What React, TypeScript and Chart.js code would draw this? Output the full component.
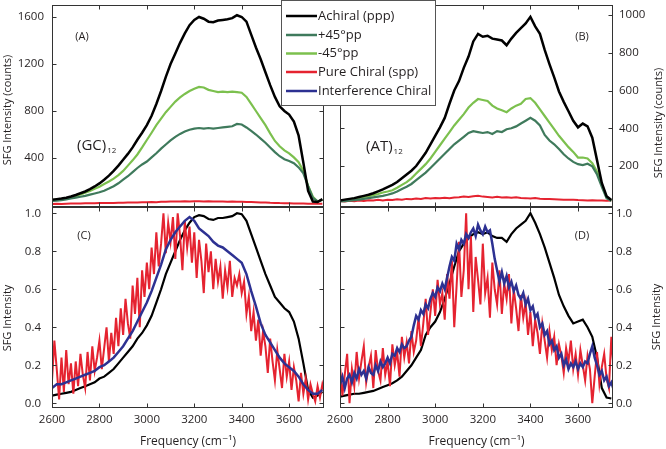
import { useEffect, useRef } from "react";
import { Chart, registerables } from "chart.js";
Chart.register(...registerables);

const W = 666;
const H = 449;
const FONT = "'Open Sans', 'DejaVu Sans', sans-serif";
const TEXT = "#231f20";

// ---------- axes ----------
const X_MIN = 2600;
const X_MAX = 3747;
const freqTicks = [2600, 2800, 3000, 3200, 3400, 3600];
const countTicksGC = [400, 800, 1200, 1600];
const countTicksAT = [200, 400, 600, 800, 1000];
const normTicks = [0, 0.2, 0.4, 0.6, 0.8, 1.0];

// sampling grids (cm-1)
const freq20 = Array.from({ length: 58 }, (_, i) => 2600 + 20 * i);
const freq10 = Array.from({ length: 116 }, (_, i) => 2600 + 10 * i);

// ---------- legend ----------
const legendLabels = ["Achiral (ppp)", "+45°pp", "-45°pp", "Pure Chiral (spp)", "Interference Chiral"];
const COLORS = {
  achiral: "#000000",
  plus45: "#3f7a5c",
  minus45: "#7cc04e",
  pure: "#e52330",
  interf: "#2d3192",
};
const legendColors = [COLORS.achiral, COLORS.plus45, COLORS.minus45, COLORS.pure, COLORS.interf];

// ---------- (A) (GC)12, counts, 20 cm-1 steps ----------
const gcAchiral = [
  45, 50, 55, 62, 72,
  85, 100, 115, 135, 158,
  184, 215, 250, 290, 335,
  385, 435, 490, 555, 615,
  680, 760, 860, 970, 1090,
  1200, 1290, 1380, 1460, 1530,
  1575, 1600, 1585, 1560, 1555,
  1570, 1575, 1580, 1590, 1615,
  1600, 1560, 1450, 1340, 1240,
  1130, 1020, 920, 840, 800,
  770, 710, 590, 360, 120,
  30, 25, 50,
];
const gcPlus45 = [
  34, 38, 42, 48, 55,
  63, 70, 78, 88, 98,
  108, 122, 140, 160, 185,
  215, 245, 280, 315, 345,
  370, 405, 440, 480, 515,
  550, 580, 605, 625, 640,
  650, 655, 650, 655, 650,
  655, 660, 665, 670, 690,
  685, 660, 630, 600, 565,
  530, 490, 450, 415, 390,
  375, 355, 320, 270, 160,
  60, 30, 45,
];
const gcMinus45 = [
  42, 45, 50, 56, 65,
  75, 90, 105, 120, 138,
  156, 178, 200, 225, 255,
  290, 335, 380, 430, 490,
  553, 615, 680, 735, 790,
  835, 880, 915, 945, 970,
  990, 1005, 1000, 980, 970,
  960, 965, 960, 965, 960,
  955, 920, 860, 800, 740,
  680, 610, 545, 500, 465,
  440, 405, 365, 290, 165,
  70, 30, 45,
];
const gcPureChiral = [
  8, 10, 9, 11, 12,
  13, 12, 14, 15, 14,
  16, 17, 18, 17, 19,
  20, 21, 22, 21, 23,
  24, 25, 24, 27, 28,
  29, 30, 29, 31, 30,
  32, 31, 30, 31, 30,
  29, 30, 28, 29, 28,
  27, 26, 25, 24, 22,
  21, 19, 18, 16, 15,
  14, 13, 12, 12, 11,
  10, 10, 11,
];

// ---------- (B) (AT)12, counts, 20 cm-1 steps ----------
const atAchiral = [
  18, 22, 26, 30, 36,
  42, 48, 56, 66, 76,
  88, 100, 115, 135, 155,
  175, 200, 235, 270, 315,
  360, 405, 455, 530, 600,
  650, 720, 780, 860, 900,
  885, 890, 875, 870, 865,
  840, 875, 905, 930, 955,
  990, 940, 900, 815, 740,
  670, 595, 540, 490, 440,
  405, 425, 410, 350, 230,
  110, 40, 20,
];
const atPlus45 = [
  12, 14, 16, 19, 22,
  26, 30, 34, 38, 42,
  48, 55, 65, 78, 90,
  105, 125, 145, 165, 190,
  215, 240, 265, 290, 315,
  335, 355, 375, 385, 380,
  375, 380, 370, 385, 380,
  395, 400, 410, 425, 440,
  455, 440, 415, 365, 335,
  315, 290, 262, 240, 222,
  210, 205, 212, 198, 155,
  90, 30, 15,
];
const atMinus45 = [
  18, 20, 23, 27, 31,
  36, 41, 46, 52, 60,
  65, 72, 85, 100, 115,
  135, 160, 185, 210, 240,
  275, 310, 345, 380, 415,
  445, 475, 510, 535, 555,
  550, 545, 520, 505, 495,
  485, 505, 520, 530, 555,
  560, 535, 500, 465, 430,
  395, 360, 330, 300, 275,
  245, 245, 240, 215, 170,
  100, 35, 18,
];
const atPureChiral = [
  15, 12, 16, 14, 18,
  15, 19, 17, 21, 18,
  22, 20, 24, 22, 26,
  24, 28, 26, 30, 28,
  31, 29, 32, 30, 33,
  35, 38, 36, 40, 42,
  38, 36, 34, 37, 33,
  35, 32, 34, 31, 30,
  28, 30, 27, 26, 25,
  24, 23, 22, 21, 22,
  20, 19, 18, 19, 17,
  18, 16, 17,
];

// ---------- (C) normalized (GC)12 ----------
const gcAchiralNorm = [
  0.04, 0.045, 0.05, 0.055, 0.06,
  0.07, 0.08, 0.09, 0.10, 0.11,
  0.13, 0.14, 0.16, 0.18, 0.21,
  0.24, 0.27, 0.30, 0.34, 0.37,
  0.41, 0.46, 0.53, 0.60, 0.68,
  0.74, 0.80, 0.86, 0.91, 0.95,
  0.98, 0.99, 0.985, 0.97, 0.965,
  0.975, 0.975, 0.98, 0.985, 1.0,
  0.995, 0.96, 0.89, 0.82, 0.75,
  0.68, 0.62, 0.56, 0.53, 0.50,
  0.48, 0.43, 0.34, 0.21, 0.07,
  0.03, 0.04, 0.06,
];
const gcInterference = [
  0.08, 0.10, 0.10, 0.11, 0.12,
  0.13, 0.14, 0.15, 0.16, 0.17,
  0.19, 0.20, 0.22, 0.24, 0.27,
  0.30, 0.34, 0.38, 0.43, 0.48,
  0.53, 0.59, 0.66, 0.73, 0.81,
  0.86, 0.90, 0.93, 0.96, 0.98,
  0.96, 0.92, 0.90, 0.88, 0.85,
  0.83, 0.82, 0.80, 0.78, 0.76,
  0.74, 0.68, 0.59, 0.51, 0.42,
  0.36, 0.32, 0.28, 0.24, 0.21,
  0.19, 0.17, 0.14, 0.10, 0.07,
  0.05, 0.05, 0.07,
];
// 10 cm-1 steps
const gcPureChiralNorm = [
  0.12, 0.33, 0.18, 0.02, 0.24, 0.06, 0.28, 0.10, 0.21, 0.05,
  0.22, 0.09, 0.26, 0.15, 0.08, 0.27, 0.12, 0.30, 0.17, 0.24,
  0.33, 0.18, 0.29, 0.40, 0.22, 0.37, 0.26, 0.45, 0.30, 0.50,
  0.36, 0.55, 0.42, 0.34, 0.62, 0.47, 0.66, 0.40, 0.70, 0.56,
  0.74, 0.60, 0.82, 0.68, 0.90, 0.72, 0.84, 1.00, 0.79, 0.95,
  0.85, 0.98, 0.76, 1.00, 0.88, 0.70, 0.96, 0.82, 0.93, 0.74,
  0.90, 0.66, 0.86, 0.75, 0.58, 0.84, 0.69, 0.80, 0.60, 0.76,
  0.64, 0.72, 0.55, 0.70, 0.61, 0.75, 0.56, 0.66, 0.62, 0.68,
  0.58, 0.64, 0.47, 0.56, 0.38, 0.48, 0.33, 0.44, 0.25, 0.38,
  0.30, 0.16, 0.34, 0.22, 0.12, 0.28, 0.18, 0.08, 0.26, 0.14,
  0.22, 0.07, 0.19, 0.12, 0.01, 0.16, 0.05, 0.13, 0.02, 0.10,
  0.05, 0.01, 0.09, 0.03, 0.10, 0.05,
];

// ---------- (D) normalized (AT)12 ----------
const atAchiralNorm = [
  0.035, 0.04, 0.045, 0.05, 0.05,
  0.055, 0.06, 0.065, 0.075, 0.085,
  0.095, 0.105, 0.12, 0.14, 0.17,
  0.20, 0.24, 0.28, 0.36, 0.40,
  0.43, 0.48, 0.55, 0.63, 0.72,
  0.80, 0.84, 0.87, 0.89, 0.90,
  0.89, 0.90, 0.88, 0.87, 0.87,
  0.85, 0.89, 0.92, 0.94, 0.96,
  1.0, 0.95, 0.89, 0.82, 0.74,
  0.66, 0.57, 0.51, 0.46, 0.42,
  0.43, 0.44, 0.40, 0.35, 0.24,
  0.08, 0.03, 0.025,
];
const atInterference = [
  0.10, 0.14, 0.08, 0.13, 0.15, 0.11, 0.16, 0.13, 0.18, 0.15,
  0.17, 0.13, 0.19, 0.16, 0.15, 0.20, 0.17, 0.22, 0.19, 0.21,
  0.24, 0.21, 0.26, 0.25, 0.29, 0.27, 0.31, 0.29, 0.30, 0.33,
  0.35, 0.41, 0.46, 0.44, 0.49, 0.47, 0.52, 0.50, 0.55, 0.58,
  0.56, 0.61, 0.59, 0.63, 0.60, 0.66, 0.72, 0.77, 0.75, 0.84,
  0.81, 0.86, 0.84, 0.89, 0.87, 0.90, 0.92, 0.88, 0.94, 0.91,
  0.89, 0.93, 0.90, 0.91, 0.84, 0.76, 0.70, 0.64, 0.69, 0.63,
  0.67, 0.61, 0.64, 0.59, 0.62, 0.57, 0.55, 0.58, 0.52, 0.55,
  0.49, 0.51, 0.45, 0.47, 0.40, 0.42, 0.36, 0.38, 0.31, 0.33,
  0.28, 0.30, 0.24, 0.26, 0.20, 0.23, 0.18, 0.21, 0.19, 0.22,
  0.18, 0.21, 0.19, 0.22, 0.21, 0.26, 0.30, 0.24, 0.20, 0.15,
  0.17, 0.12, 0.14, 0.09, 0.11, 0.07,
];
const atPureChiralNorm = [
  0.20, 0.04, 0.15, 0.26, 0.00, 0.18, 0.09, 0.27, 0.13, 0.22,
  0.30, 0.11, 0.19, 0.25, 0.08, 0.28, 0.17, 0.12, 0.29, 0.15,
  0.22, 0.09, 0.31, 0.20, 0.27, 0.14, 0.35, 0.24, 0.32, 0.21,
  0.38, 0.27, 0.33, 0.45, 0.30, 0.42, 0.55, 0.36, 0.48, 0.60,
  0.46, 0.65, 0.52, 0.58, 0.44, 0.68, 0.55, 0.75, 0.40, 0.62,
  0.85, 0.56, 0.70, 1.00, 0.60, 0.88, 0.48, 0.77, 0.65, 0.52,
  0.84, 0.58, 0.66, 0.45, 0.74, 0.60, 0.52, 0.70, 0.47, 0.63,
  0.55, 0.68, 0.42, 0.60, 0.50, 0.38, 0.57, 0.45, 0.53, 0.36,
  0.48, 0.30, 0.44, 0.37, 0.26, 0.42, 0.33, 0.24, 0.38, 0.28,
  0.35, 0.20, 0.31, 0.25, 0.16, 0.29, 0.22, 0.33, 0.18, 0.26,
  0.15, 0.28, 0.20, 0.12, 0.25, 0.18, 0.00, 0.14, 0.27, 0.10,
  0.19, 0.26, 0.13, 0.08, 0.35, 0.17,
];

// ---------- plugins ----------
const framePlugin = {
  id: "panelFrame",
  afterDatasetsDraw(chart: any) {
    const { ctx, chartArea: a } = chart;
    const xs = chart.scales.x;
    const ys = chart.scales.y;
    const L = Math.round(a.left) + 0.5;
    const R = Math.round(a.right) - 0.5;
    const T = Math.round(a.top) + 0.5;
    const B = Math.round(a.bottom) - 0.5;
    const len = 4;
    ctx.save();
    ctx.strokeStyle = "#333333";
    ctx.lineWidth = 1;
    ctx.strokeRect(L, T, R - L, B - T);
    ctx.beginPath();
    xs.ticks.forEach((t: any) => {
      const p = Math.round(xs.getPixelForValue(t.value)) + 0.5;
      if (p <= L + 1 || p >= R - 1) return;
      ctx.moveTo(p, B);
      ctx.lineTo(p, B - len);
      ctx.moveTo(p, T);
      ctx.lineTo(p, T + len);
    });
    ys.ticks.forEach((t: any) => {
      const p = Math.round(ys.getPixelForValue(t.value)) + 0.5;
      if (p <= T + 1 || p >= B - 1) return;
      ctx.moveTo(L, p);
      ctx.lineTo(L + len, p);
      ctx.moveTo(R, p);
      ctx.lineTo(R - len, p);
    });
    ctx.stroke();
    ctx.restore();
  },
};

const textPlugin = {
  id: "panelText",
  afterDraw(chart: any, _args: any, opts: any) {
    const ctx = chart.ctx;
    (opts.labels || []).forEach((l: any) => {
      ctx.save();
      ctx.fillStyle = TEXT;
      ctx.font = `${l.size}px ${FONT}`;
      ctx.textAlign = l.align || "center";
      ctx.textBaseline = "middle";
      ctx.translate(l.x, l.y);
      if (l.rotate) ctx.rotate(-Math.PI / 2);
      ctx.fillText(l.text, 0, 0);
      if (l.sub) {
        const w = ctx.measureText(l.text).width;
        ctx.font = `${l.subSize}px ${FONT}`;
        ctx.textAlign = "left";
        ctx.fillText(l.sub, w + 1, l.subDy);
      }
      ctx.restore();
    });
  },
};

const legendPlugin = {
  id: "boxLegend",
  afterDraw(chart: any, _args: any, opts: any) {
    if (!opts || !opts.show) return;
    const ctx = chart.ctx;
    const { x, y, w, h, rows, lineX0, lineX1, textX } = opts;
    ctx.save();
    ctx.fillStyle = "#ffffff";
    ctx.fillRect(x, y, w, h);
    ctx.strokeStyle = "#555555";
    ctx.lineWidth = 1;
    ctx.strokeRect(x + 0.5, y + 0.5, w - 1, h - 1);
    legendLabels.forEach((lab, i) => {
      const ry = rows[i];
      ctx.strokeStyle = legendColors[i];
      ctx.lineWidth = 2.5;
      ctx.beginPath();
      ctx.moveTo(lineX0, ry);
      ctx.lineTo(lineX1, ry);
      ctx.stroke();
      ctx.fillStyle = TEXT;
      ctx.font = `13px ${FONT}`;
      ctx.textAlign = "left";
      ctx.textBaseline = "middle";
      ctx.fillText(lab, textX, ry);
    });
    ctx.restore();
  },
};

// ---------- panels ----------
type Series = { label: string; xs: number[]; ys: number[]; color: string; width: number };
type Panel = {
  id: string;
  area: { left: number; top: number; right: number; bottom: number };
  yPos: "left" | "right";
  yMin: number;
  yMax: number;
  yTicks: number[];
  yFmt: (v: number) => string;
  yPad: number;
  showX: boolean;
  series: Series[];
  labels: any[];
  legend: boolean;
};

const intFmt = (v: number) => String(Math.round(v));
const oneDec = (v: number) => v.toFixed(1);

const PANELS: Panel[] = [
  {
    id: "C",
    area: { left: 52, top: 207, right: 324, bottom: 408 },
    yPos: "left",
    yMin: -0.025,
    yMax: 1.033,
    yTicks: normTicks,
    yFmt: oneDec,
    yPad: 11,
    showX: true,
    series: [
      { label: "Interference Chiral", xs: freq20, ys: gcInterference, color: COLORS.interf, width: 2.5 },
      { label: "Pure Chiral (spp)", xs: freq10, ys: gcPureChiralNorm, color: COLORS.pure, width: 2 },
      { label: "Achiral (ppp)", xs: freq20, ys: gcAchiralNorm, color: COLORS.achiral, width: 2.2 },
    ],
    labels: [
      { text: "(C)", x: 84, y: 236, size: 11 },
      { text: "SFG Intensity", x: 8, y: 318, size: 11, rotate: true },
    ],
    legend: false,
  },
  {
    id: "D",
    area: { left: 340, top: 207, right: 613, bottom: 408 },
    yPos: "right",
    yMin: -0.025,
    yMax: 1.033,
    yTicks: normTicks,
    yFmt: oneDec,
    yPad: 3,
    showX: true,
    series: [
      { label: "Interference Chiral", xs: freq10, ys: atInterference, color: COLORS.interf, width: 2.5 },
      { label: "Pure Chiral (spp)", xs: freq10, ys: atPureChiralNorm, color: COLORS.pure, width: 2 },
      { label: "Achiral (ppp)", xs: freq20, ys: atAchiralNorm, color: COLORS.achiral, width: 2.2 },
    ],
    labels: [
      { text: "(D)", x: 582, y: 236, size: 11 },
      { text: "SFG Intensity", x: 656.5, y: 317, size: 11, rotate: true },
    ],
    legend: false,
  },
  {
    id: "A",
    area: { left: 52, top: 5, right: 324, bottom: 207 },
    yPos: "left",
    yMin: -17,
    yMax: 1702,
    yTicks: countTicksGC,
    yFmt: intFmt,
    yPad: 8,
    showX: false,
    series: [
      { label: "Achiral (ppp)", xs: freq20, ys: gcAchiral, color: COLORS.achiral, width: 2.5 },
      { label: "+45°pp", xs: freq20, ys: gcPlus45, color: COLORS.plus45, width: 2.2 },
      { label: "-45°pp", xs: freq20, ys: gcMinus45, color: COLORS.minus45, width: 2.2 },
      { label: "Pure Chiral (spp)", xs: freq20, ys: gcPureChiral, color: COLORS.pure, width: 2 },
    ],
    labels: [
      { text: "(A)", x: 82, y: 37, size: 11 },
      { text: "(GC)", sub: "12", subSize: 8, subDy: 5, x: 77, y: 146, size: 15, align: "left" },
      { text: "SFG Intensity (counts)", x: 8, y: 110, size: 11, rotate: true },
    ],
    legend: false,
  },
  {
    id: "B",
    area: { left: 340, top: 5, right: 613, bottom: 207 },
    yPos: "right",
    yMin: -17,
    yMax: 1053,
    yTicks: countTicksAT,
    yFmt: intFmt,
    yPad: 6,
    showX: false,
    series: [
      { label: "Achiral (ppp)", xs: freq20, ys: atAchiral, color: COLORS.achiral, width: 2.5 },
      { label: "+45°pp", xs: freq20, ys: atPlus45, color: COLORS.plus45, width: 2.2 },
      { label: "-45°pp", xs: freq20, ys: atMinus45, color: COLORS.minus45, width: 2.2 },
      { label: "Pure Chiral (spp)", xs: freq20, ys: atPureChiral, color: COLORS.pure, width: 2 },
    ],
    labels: [
      { text: "(B)", x: 582, y: 37, size: 11 },
      { text: "(AT)", sub: "12", subSize: 8, subDy: 5, x: 366, y: 147, size: 15, align: "left" },
      { text: "SFG Intensity (counts)", x: 658.5, y: 123, size: 11, rotate: true },
    ],
    legend: true,
  },
];

function buildConfig(p: Panel): any {
  const left = p.yPos === "left";
  return {
    type: "line",
    data: {
      datasets: p.series.map((s) => ({
        label: s.label,
        data: s.ys.map((y, i) => ({ x: s.xs[i], y })),
        borderColor: s.color,
        backgroundColor: s.color,
        borderWidth: s.width,
        pointRadius: 0,
        tension: 0,
        fill: false,
      })),
    },
    options: {
      responsive: false,
      animation: false,
      devicePixelRatio: 1,
      events: [],
      layout: {
        padding: {
          left: left ? 0 : p.area.left,
          right: left ? W - p.area.right : 0,
          top: p.area.top,
          bottom: p.showX ? 0 : H - p.area.bottom,
        },
      },
      plugins: {
        legend: { display: false },
        tooltip: { enabled: false },
        panelText: { labels: p.labels },
        boxLegend: {
          show: p.legend,
          x: 281,
          y: 0,
          w: 155,
          h: 106,
          rows: [16, 35, 53.5, 72, 91],
          lineX0: 286,
          lineX1: 317,
          textX: 318,
        },
      },
      scales: {
        x: {
          type: "linear",
          position: "bottom",
          min: X_MIN,
          max: X_MAX,
          grid: { display: false, drawTicks: false },
          border: { display: false },
          ticks: {
            display: p.showX,
            font: { family: FONT, size: 11.5 },
            color: TEXT,
            padding: 5,
            maxRotation: 0,
            autoSkip: false,
            callback: (v: any) => String(v),
          },
          afterBuildTicks: (s: any) => {
            s.ticks = freqTicks.map((v) => ({ value: v }));
          },
          afterFit: (s: any) => {
            s.height = p.showX ? H - p.area.bottom : 0;
            s.paddingLeft = 0;
            s.paddingRight = 0;
          },
          title: {
            display: p.showX,
            text: "Frequency (cm⁻¹)",
            font: { family: FONT, size: 12 },
            color: TEXT,
            padding: { top: 0, bottom: 0 },
          },
        },
        y: {
          type: "linear",
          position: p.yPos,
          min: p.yMin,
          max: p.yMax,
          grid: { display: false, drawTicks: false },
          border: { display: false },
          ticks: {
            font: { family: FONT, size: 11.5 },
            color: TEXT,
            padding: p.yPad,
            autoSkip: false,
            callback: (v: any) => p.yFmt(Number(v)),
          },
          afterBuildTicks: (s: any) => {
            s.ticks = p.yTicks.map((v) => ({ value: v }));
          },
          afterFit: (s: any) => {
            s.width = left ? p.area.left : W - p.area.right;
            s.paddingTop = 0;
            s.paddingBottom = 0;
          },
        },
      },
    },
    plugins: [framePlugin, textPlugin, legendPlugin],
  };
}

export default function App() {
  const r0 = useRef<HTMLCanvasElement>(null);
  const r1 = useRef<HTMLCanvasElement>(null);
  const r2 = useRef<HTMLCanvasElement>(null);
  const r3 = useRef<HTMLCanvasElement>(null);
  const refs = [r0, r1, r2, r3];

  useEffect(() => {
    const charts = PANELS.map((p, i) => new Chart(refs[i].current as HTMLCanvasElement, buildConfig(p)));
    return () => charts.forEach((c) => c.destroy());
  }, []);

  return (
    <div style={{ position: "absolute", left: 0, top: 0, width: W, height: H, background: "#ffffff" }}>
      {PANELS.map((p, i) => (
        <canvas
          key={p.id}
          ref={refs[i]}
          width={W}
          height={H}
          style={{ position: "absolute", left: 0, top: 0, width: W, height: H }}
        />
      ))}
    </div>
  );
}
